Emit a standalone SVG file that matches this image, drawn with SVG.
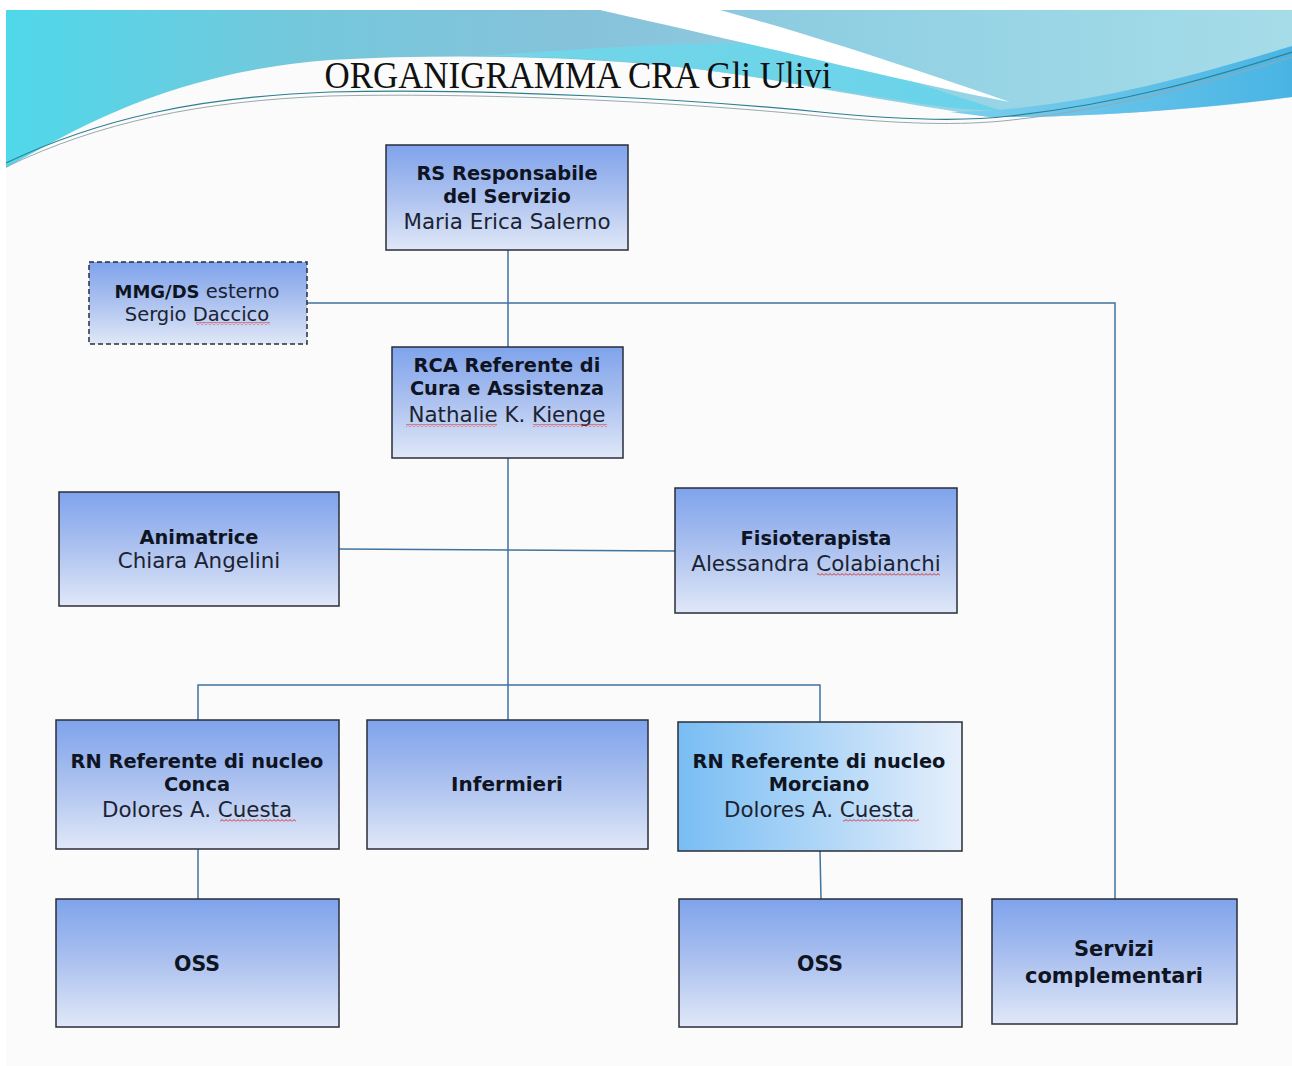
<svg xmlns="http://www.w3.org/2000/svg" width="1292" height="1066" viewBox="0 0 1292 1066">
<defs>
<linearGradient id="hdr" x1="0" y1="0" x2="1" y2="0">
<stop offset="0" stop-color="#4fd8ea"/>
<stop offset="0.22" stop-color="#74c8dc"/>
<stop offset="0.45" stop-color="#86c2da"/>
<stop offset="0.7" stop-color="#93d2e4"/>
<stop offset="1" stop-color="#a6dce8"/>
</linearGradient>
<linearGradient id="band" x1="0" y1="0" x2="1" y2="0">
<stop offset="0" stop-color="#6fdcec"/>
<stop offset="1" stop-color="#5fd2ea"/>
</linearGradient>
<linearGradient id="ribbon" x1="0" y1="0" x2="1" y2="0">
<stop offset="0" stop-color="#7ccfee"/>
<stop offset="1" stop-color="#49b4e4"/>
</linearGradient>
<linearGradient id="box" x1="0" y1="0" x2="0" y2="1">
<stop offset="0" stop-color="#7fa3ec"/>
<stop offset="0.5" stop-color="#adc2ef"/>
<stop offset="1" stop-color="#e0e8f8"/>
</linearGradient>
<linearGradient id="boxh" x1="0" y1="0" x2="1" y2="0">
<stop offset="0" stop-color="#78bdf3"/>
<stop offset="1" stop-color="#e6effb"/>
</linearGradient>
<pattern id="sq" width="4" height="3" patternUnits="userSpaceOnUse">
<path d="M0,2.5 L2,0.5 L4,2.5" fill="none" stroke="#d0302f" stroke-width="1"/>
</pattern>
</defs>
<style>
.node rect{stroke:#2a2e38;stroke-width:1.5}
.fill{fill:url(#box)}
.b{font-family:"DejaVu Sans",Verdana,sans-serif;font-weight:bold;font-size:19.4px;fill:#0f1422;text-anchor:middle}
.r{font-family:"DejaVu Sans",Verdana,sans-serif;font-size:21.4px;fill:#1b2333;text-anchor:middle}
.conn{fill:none;stroke:#3f73a0;stroke-width:1.5}
.sq{fill:url(#sq)}
</style>
<rect x="0" y="0" width="1292" height="1066" fill="#ffffff"/>
<rect x="6" y="10" width="1286" height="1056" fill="#fbfbfb"/>
<g id="header">
<path d="M6,10 H1292 V97 C1230,106 1100,118 990,117 C930,108 850,94 760,78 C640,58 480,52 330,60 C180,72 90,120 6,168 Z" fill="url(#hdr)"/>
<path d="M480,56 C600,48 700,40 790,45 C870,65 940,92 1000,110 C960,112 900,100 860,94 C820,88 790,82 760,78 C660,62 570,56 480,56 Z" fill="url(#band)" opacity="0.8"/>
<path d="M600,10 L720,10 C830,40 930,75 1010,102 C920,85 800,55 600,10 Z" fill="#ffffff"/>
<path d="M950,112 C1070,110 1180,80 1292,46 V97 C1220,106 1100,118 990,117 Z" fill="url(#ribbon)"/>
<path d="M6,163 C100,118 200,97 330,92 C500,88 700,100 820,112 C900,120 960,122 1010,116 C1120,104 1210,78 1292,52" fill="none" stroke="#2f7f8f" stroke-width="1.2"/>
<path d="M6,167 C100,122 200,101 330,96 C500,92 700,104 820,116 C900,124 960,126 1012,120 C1120,108 1210,82 1292,57" fill="none" stroke="#9aa8ae" stroke-width="1"/>
<text x="578" y="88" font-family="Liberation Serif, 'Times New Roman', serif" font-size="37" fill="#111111" text-anchor="middle" textLength="507" lengthAdjust="spacingAndGlyphs">ORGANIGRAMMA CRA Gli Ulivi</text>
</g>
<g id="connectors">
<path class="conn" d="M508,250 V347"/>
<path class="conn" d="M307,303 H1115 V899"/>
<path class="conn" d="M508,458 V720"/>
<path class="conn" d="M339,549 L675,551"/>
<path class="conn" d="M198,720 V685 H820 V722"/>
<path class="conn" d="M198,849 V899"/>
<path class="conn" d="M820,851 L821,899"/>
</g>
<g id="rs" class="node">
<rect class="fill" x="386" y="145" width="242" height="105"/>
<text class="b" x="507" y="180">RS Responsabile</text>
<text class="b" x="507" y="203">del Servizio</text>
<text class="r" x="507" y="229">Maria Erica Salerno</text>
</g>
<g id="mmg" class="node">
<rect class="fill" x="89" y="262" width="218" height="82" stroke-dasharray="5 3"/>
<text class="r" x="197" y="298" style="font-size:19.5px"><tspan style="font-weight:bold;font-size:18px;fill:#0f1422">MMG/DS</tspan> esterno</text>
<text class="r" x="197" y="321" style="font-size:19.5px">Sergio Daccico</text>
<rect class="sq" x="196" y="322" width="74" height="3" style="stroke:none"/>
</g>
<g id="rca" class="node">
<rect class="fill" x="392" y="347" width="231" height="111"/>
<text class="b" x="507" y="372">RCA Referente di</text>
<text class="b" x="507" y="395">Cura e Assistenza</text>
<text class="r" x="507" y="422">Nathalie K. Kienge</text>
<rect class="sq" x="406" y="424" width="91" height="3" style="stroke:none"/>
<rect class="sq" x="533" y="424" width="74" height="3" style="stroke:none"/>
</g>
<g id="animatrice" class="node">
<rect class="fill" x="59" y="492" width="280" height="114"/>
<text class="b" x="199" y="544">Animatrice</text>
<text class="r" x="199" y="568">Chiara Angelini</text>
</g>
<g id="fisioterapista" class="node">
<rect class="fill" x="675" y="488" width="282" height="125"/>
<text class="b" x="816" y="545">Fisioterapista</text>
<text class="r" x="816" y="571">Alessandra Colabianchi</text>
<rect class="sq" x="817" y="573" width="123" height="3" style="stroke:none"/>
</g>
<g id="rn-conca" class="node">
<rect class="fill" x="56" y="720" width="283" height="129"/>
<text class="b" x="197" y="768">RN Referente di nucleo</text>
<text class="b" x="197" y="791">Conca</text>
<text class="r" x="197" y="817">Dolores A. Cuesta</text>
<rect class="sq" x="220" y="819" width="76" height="3" style="stroke:none"/>
</g>
<g id="infermieri" class="node">
<rect class="fill" x="367" y="720" width="281" height="129"/>
<text class="b" x="507" y="791" style="font-size:20px">Infermieri</text>
</g>
<g id="rn-morciano" class="node">
<rect x="678" y="722" width="284" height="129" fill="url(#boxh)"/>
<text class="b" x="819" y="768">RN Referente di nucleo</text>
<text class="b" x="819" y="791">Morciano</text>
<text class="r" x="819" y="817">Dolores A. Cuesta</text>
<rect class="sq" x="843" y="819" width="76" height="3" style="stroke:none"/>
</g>
<g id="oss-conca" class="node">
<rect class="fill" x="56" y="899" width="283" height="128"/>
<text class="b" x="197" y="971" style="font-size:20.5px">OSS</text>
</g>
<g id="oss-morciano" class="node">
<rect class="fill" x="679" y="899" width="283" height="128"/>
<text class="b" x="820" y="971" style="font-size:20.5px">OSS</text>
</g>
<g id="servizi" class="node">
<rect class="fill" x="992" y="899" width="245" height="125"/>
<text class="b" x="1114" y="956" style="font-size:21px">Servizi</text>
<text class="b" x="1114" y="983" style="font-size:21px">complementari</text>
</g>
</svg>
